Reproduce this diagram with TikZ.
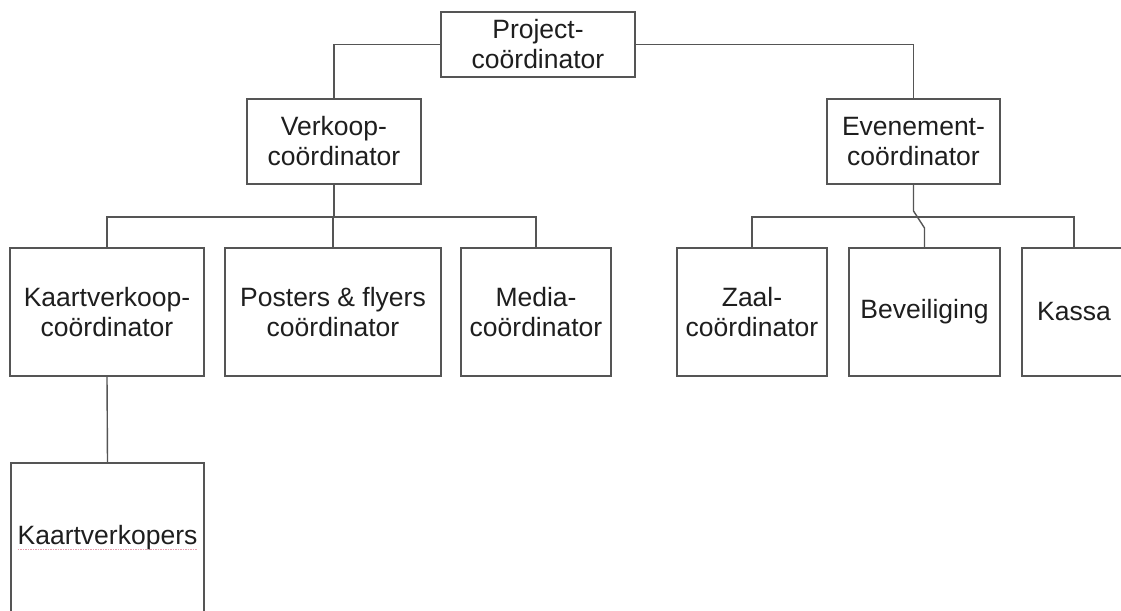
\documentclass[tikz,border=0pt]{standalone}
\usepackage{fontspec}
\setmainfont{Liberation Sans}
\usetikzlibrary{calc}
\definecolor{boxline}{HTML}{555555}
\definecolor{txt}{HTML}{1E1E1E}
\definecolor{spell}{HTML}{E8A0B0}
\begin{document}
\begin{tikzpicture}[x=1pt,y=-1pt,
  box/.style={draw=boxline, line width=1.4pt, rectangle, fill=white, align=center,
    text=txt, font=\fontsize{26.5}{30}\selectfont, inner sep=0pt},
  conn/.style={draw=boxline, line width=1.4pt}]
\clip (0,0) rectangle (1121,610);
\fill[white] (0,0) rectangle (1121,610);
\useasboundingbox (0,0) rectangle (1121,610);
% row 1
\node[box, minimum width=194pt, minimum height=65pt] (proj) at (538,44.5) {Project-\\coördinator};
% row 2
\node[box, minimum width=174pt, minimum height=85pt] (verk) at (334,141.5) {Verkoop-\\coördinator};
\node[box, minimum width=173pt, minimum height=85pt] (even) at (913.5,141.5) {Evenement-\\coördinator};
% row 3
\node[box, minimum width=194pt, minimum height=128pt] (kaart) at (107,312) {Kaartverkoop-\\coördinator};
\node[box, minimum width=216pt, minimum height=128pt] (post) at (333,312) {Posters \& flyers\\coördinator};
\node[box, minimum width=150pt, minimum height=128pt] (media) at (536,312) {Media-\\coördinator};
\node[box, minimum width=150pt, minimum height=128pt] (zaal) at (752,312) {Zaal-\\coördinator};
\node[box, minimum width=151pt, minimum height=128pt] (bev) at (924.5,312) {Beveiliging};
\node[box, minimum width=104pt, minimum height=128pt] (kassa) at (1074,312) {Kassa};
% row 4
\node[box, minimum width=193pt, minimum height=150pt] (kverk) at (107.5,538) {Kaartverkopers};
\draw[spell, line width=0.8pt, dash pattern=on 1.5pt off 1pt] ($(kverk.center)+(-90,11)$) -- ($(kverk.center)+(90,11)$);
% bus coordinates
\coordinate (b1) at (334,217);
\coordinate (b2) at (913.5,217);
\coordinate (k1) at (913.5,211);
\coordinate (k2) at (924.5,228);
% connectors
\draw[conn] (proj.west) -| (verk.north);
\draw[conn] (proj.east) -| (even.north);
\draw[conn] (verk.south) -- (b1);
\draw[conn] (kaart.north) |- (b1) -| (media.north);
\draw[conn] (post.north) -- (post.north |- b1);
\draw[conn] (zaal.north) |- (b2) -| (kassa.north);
\draw[conn] (even.south) -- (k1) -- (k2) -- (bev.north);
\draw[conn] (kaart.south) -- (kverk.north);
\end{tikzpicture}
\end{document}
